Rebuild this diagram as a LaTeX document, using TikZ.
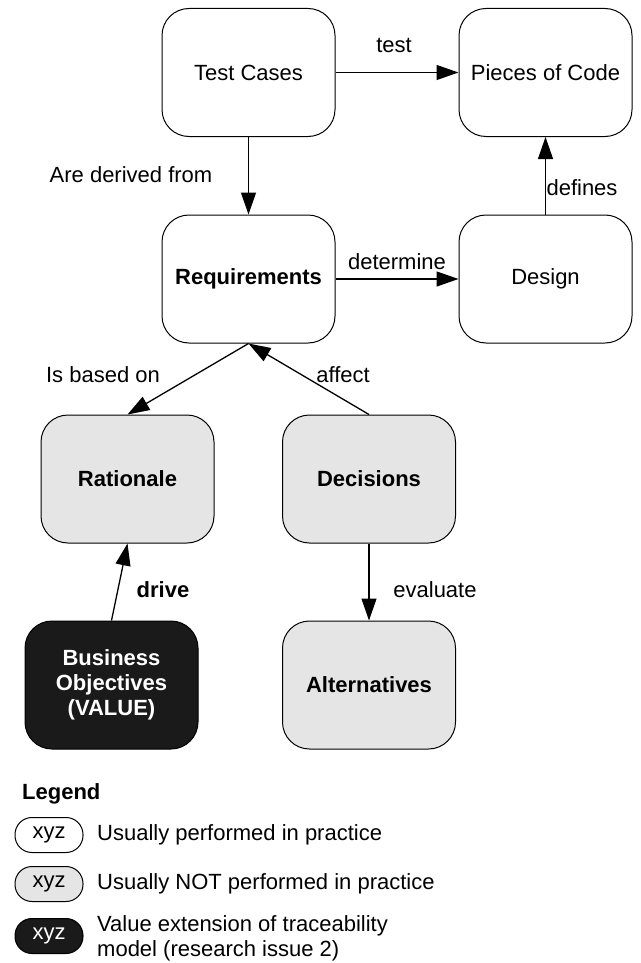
\documentclass[tikz,border=0pt]{standalone}
\usepackage{fontspec}
\setmainfont{Liberation Sans}
\usetikzlibrary{arrows.meta}

\definecolor{boxgrey}{HTML}{E5E5E5}
\definecolor{boxdark}{HTML}{1A1A1A}

\newcommand{\basefont}{\fontsize{22}{25}\selectfont}

\begin{document}
\begin{tikzpicture}[x=1pt, y=-1pt,
  font=\basefont,
  box/.style={draw, line width=1pt, rounded corners=27pt,
    minimum width=173pt, minimum height=128pt, align=center, inner sep=0pt},
  plainbox/.style={box, fill=white},
  greybox/.style={box, fill=boxgrey, font=\basefont\bfseries},
  darkbox/.style={box, fill=boxdark, text=white, font=\basefont\bfseries},
  link/.style={line width=1.3pt, -{Triangle[length=22pt,width=15pt]}},
  lbl/.style={inner sep=0pt},
  pill/.style={draw, line width=1pt, rounded corners=17pt,
    minimum width=68pt, minimum height=35pt, inner sep=0pt},
  legtext/.style={anchor=west, inner sep=0pt, align=left}]

  \useasboundingbox (0,0) rectangle (640,963);

  % main nodes
  \node[plainbox] (tc)  at (248.5,72.5) {Test Cases};
  \node[plainbox] (pc)  at (545.5,72.5) {Pieces of Code};
  \node[plainbox, font=\basefont\bfseries] (req) at (248.5,279) {Requirements};
  \node[plainbox] (des) at (545.5,279) {Design};
  \node[greybox]  (rat) at (127.5,479) {Rationale};
  \node[greybox]  (dec) at (369,479)   {Decisions};
  \node[darkbox]  (bo)  at (111.5,685) {Business\\Objectives\\(VALUE)};
  \node[greybox]  (alt) at (369,685)   {Alternatives};

  % relations
  \draw[link] (tc) -- (pc);
  \draw[link] (tc) -- (req);
  \draw[link] (req) -- (des);
  \draw[link] (des) -- (pc);
  \draw[link] (req.south) -- (rat.north);
  \draw[link] (dec.north) -- (req.south);
  \draw[link] (bo.north) -- (rat.south);
  \draw[link] (dec) -- (alt);

  % relation labels
  \node[lbl] (ltest) at (394,45)  {test};
  \node[lbl] (lder)  at (131,175) {Are derived from};
  \node[lbl] (ldet)  at (397,262) {determine};
  \node[lbl] (ldef)  at (582,188) {defines};
  \node[lbl] (lbas)  at (103,375) {Is based on};
  \node[lbl] (laff)  at (343,375) {affect};
  \node[lbl, font=\basefont\bfseries] (ldrv) at (163,590) {drive};
  \node[lbl] (leva)  at (435,590) {evaluate};

  % legend
  \node[legtext, font=\basefont\bfseries] (leg) at (22,794) {Legend};
  \node[pill, fill=white] (p1) at (49,835) {xyz};
  \node[pill, fill=boxgrey] (p2) at (49,884) {xyz};
  \node[pill, fill=boxdark, text=white] (p3) at (49,936) {xyz};
  \node[legtext] (t1) at (97,835) {Usually performed in practice};
  \node[legtext] (t2) at (97,884) {Usually NOT performed in practice};
  \node[legtext] (t3) at (97,938) {Value extension of traceability\\model (research issue 2)};
\end{tikzpicture}
\end{document}
